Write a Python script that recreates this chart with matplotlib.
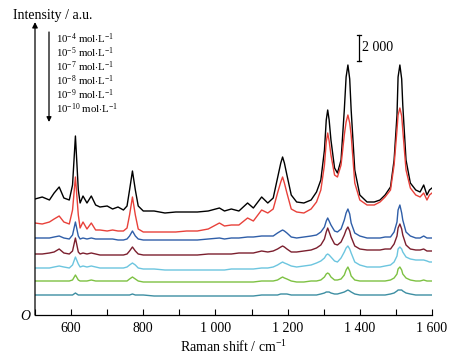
import matplotlib
matplotlib.use('Agg')
import matplotlib.pyplot as plt

plt.rcParams['font.family'] = ['Liberation Serif', 'DejaVu Serif']
plt.rcParams['mathtext.fontset'] = 'custom'
plt.rcParams['mathtext.rm'] = 'Liberation Serif'
plt.rcParams['mathtext.it'] = 'Liberation Serif:italic'

# Raman shift grid (cm-1), shared by all spectra
shift = [500, 520, 540, 553, 567, 580, 595, 604, 612, 620,
         625, 633, 644, 656, 668, 680, 700, 715, 730, 745,
         755, 762, 770, 778, 786, 800, 830, 860, 890, 920,
         950, 980, 1011, 1025, 1044, 1065, 1089, 1105, 1128, 1145,
         1160, 1172, 1181, 1186, 1191, 1198, 1210, 1225, 1245, 1265,
         1280, 1292, 1302, 1307, 1311, 1315, 1320, 1330, 1338, 1348,
         1357, 1362, 1367, 1372, 1376, 1386, 1400, 1420, 1440, 1456,
         1470, 1485, 1495, 1503, 1506, 1511, 1516, 1519, 1528, 1540,
         1555, 1567, 1577, 1586, 1593, 1600]

# stacked intensities, top to bottom (a.u.; the "2 000" bar is 26 units tall)
spec_1 = [116, 118, 115, 122, 128, 117, 115, 130, 179, 125,
          112, 119, 112, 119, 110, 108, 109, 106, 108, 105,
          109, 125, 144, 125, 109, 104, 104, 102, 103, 103,
          103, 104, 107, 104, 106, 104, 112, 107, 118, 112,
          117, 137, 152, 158, 152, 140, 120, 113, 112, 115,
          123, 135, 165, 195, 205, 195, 175, 147, 142, 155,
          205, 238, 250, 236, 205, 145, 120, 113, 113, 115,
          120, 128, 155, 200, 238, 250, 236, 210, 155, 132,
          125, 123, 130, 120, 125, 127]
spec_2 = [92, 91, 93, 96, 99, 93, 91, 105, 138, 100,
          87, 93, 86, 92, 85, 85, 84, 85, 84, 84,
          87, 100, 118, 100, 86, 83, 83, 83, 83, 84,
          84, 86, 92, 89, 90, 90, 97, 94, 105, 102,
          106, 122, 133, 138, 132, 122, 106, 103, 102, 106,
          113, 125, 150, 173, 182, 174, 160, 140, 138, 150,
          180, 193, 200, 192, 180, 132, 115, 110, 110, 113,
          118, 125, 150, 185, 200, 207, 199, 185, 145, 127,
          120, 118, 122, 115, 120, 122]
spec_3 = [77, 77, 77, 78, 79, 77, 76, 80, 93, 79,
          76, 77, 76, 77, 76, 76, 76, 76, 75, 75,
          76, 79, 84, 79, 76, 75, 75, 75, 75, 75,
          75, 76, 77, 76, 77, 77, 78, 78, 79, 79,
          79, 82, 84, 85, 84, 82, 78, 77, 78, 79,
          80, 83, 88, 94, 97, 94, 90, 84, 83, 86,
          95, 102, 106, 101, 92, 82, 79, 77, 77, 77,
          78, 78, 83, 93, 105, 110, 102, 95, 83, 79,
          77, 77, 79, 77, 77, 77]
spec_4 = [61, 61, 62, 63, 66, 62, 61, 64, 77, 63,
          61, 62, 61, 62, 61, 60, 60, 60, 60, 60,
          61, 64, 68, 64, 61, 60, 60, 60, 60, 60,
          60, 61, 61, 61, 61, 62, 62, 62, 64, 63,
          64, 66, 68, 69, 68, 66, 63, 63, 64, 65,
          67, 70, 76, 83, 87, 83, 78, 71, 70, 73,
          80, 85, 88, 84, 78, 69, 66, 65, 65, 65,
          66, 66, 71, 79, 87, 91, 86, 80, 70, 66,
          65, 65, 66, 64, 64, 64]
spec_5 = [47, 47, 47, 48, 49, 48, 47, 50, 58, 51,
          48, 49, 48, 49, 48, 47, 47, 47, 47, 47,
          48, 50, 52, 50, 47, 46, 46, 45, 45, 45,
          45, 45, 45, 45, 46, 46, 46, 46, 47, 47,
          48, 50, 52, 53, 52, 51, 49, 48, 49, 50,
          52, 54, 57, 60, 61, 60, 58, 54, 53, 57,
          63, 67, 69, 66, 62, 53, 50, 48, 48, 48,
          49, 50, 53, 59, 66, 68, 66, 63, 58, 56,
          55, 55, 55, 54, 53, 53]
spec_6 = [34, 34, 34, 34, 34, 34, 34, 35, 40, 35,
          34, 34, 34, 35, 34, 34, 34, 34, 34, 34,
          34, 36, 38, 36, 34, 33, 33, 33, 33, 33,
          33, 33, 33, 33, 33, 33, 33, 33, 34, 34,
          34, 35, 37, 38, 37, 36, 34, 33, 33, 34,
          34, 35, 38, 41, 42, 41, 38, 35, 35, 36,
          40, 45, 48, 44, 39, 35, 34, 34, 34, 34,
          34, 35, 37, 41, 46, 48, 45, 41, 37, 35,
          34, 34, 35, 34, 34, 34]
spec_7 = [20, 20, 20, 20, 20, 20, 20, 20, 22, 20,
          20, 20, 20, 20, 20, 20, 20, 20, 20, 20,
          20, 20, 21, 20, 20, 20, 19, 19, 19, 19,
          19, 19, 19, 19, 19, 19, 19, 19, 20, 20,
          20, 20, 21, 21, 21, 21, 20, 20, 20, 20,
          20, 21, 22, 23, 23, 23, 22, 21, 21, 22,
          23, 24, 25, 24, 23, 21, 20, 20, 20, 20,
          20, 21, 22, 24, 25, 25, 25, 24, 22, 21,
          20, 20, 20, 20, 20, 20]

spectra = [spec_1, spec_2, spec_3, spec_4, spec_5, spec_6, spec_7]
colors = ['#000000', '#e8413a', '#2f5ea8', '#7b1f2e', '#6cc5df', '#7dc142', '#3d8ea2']
labels = [r'10$^{-4}$ mol$\cdot$L$^{-1}$', r'10$^{-5}$ mol$\cdot$L$^{-1}$',
          r'10$^{-7}$ mol$\cdot$L$^{-1}$', r'10$^{-8}$ mol$\cdot$L$^{-1}$',
          r'10$^{-9}$ mol$\cdot$L$^{-1}$', r'10$^{-10}$ mol$\cdot$L$^{-1}$']
xticks = [500, 600, 700, 800, 900, 1000, 1100, 1200, 1300, 1400, 1500, 1600]
xticklabels = ['', '600', '', '800', '', '1 000', '', '1 200', '', '1 400', '', '1 600']

W, H = 461, 356
fig = plt.figure(figsize=(W / 100, H / 100), dpi=100)
ax = fig.add_axes([35 / W, 41 / H, 397 / W, 290 / H])

for y, c in zip(spectra, colors):
    ax.plot(shift, y, color=c, lw=1.0)

ax.set_xlim(500, 1600)
ax.set_ylim(0, 290)
ax.set_yticks([])
ax.set_xticks(xticks)
ax.set_xticklabels(xticklabels)
ax.tick_params(axis='x', direction='in', length=4, width=0.8, labelsize=10, pad=5)
for s in ['top', 'right', 'left']:
    ax.spines[s].set_visible(False)
ax.spines['bottom'].set_linewidth(0.9)

# y axis drawn as an arrow
ax.annotate('', xy=(0, 1.01), xytext=(0, 0), xycoords='axes fraction',
            arrowprops=dict(arrowstyle='-|>', color='k', lw=0.9, mutation_scale=8,
                            shrinkA=0, shrinkB=0))

# scale bar
bx, b0, b1 = 1397, 254.5, 280.5
ax.plot([bx, bx], [b0, b1], color='k', lw=0.9)
ax.plot([bx - 6, bx + 6], [b0, b0], color='k', lw=0.9)
ax.plot([bx - 6, bx + 6], [b1, b1], color='k', lw=0.9)
ax.text(bx + 10, (b0 + b1) / 2, '2 000', fontsize=10, va='center', ha='left')

# concentration list with arrow
ax.annotate('', xy=(49 / W, 1 - 122 / H), xytext=(49 / W, 1 - 32 / H),
            xycoords='figure fraction',
            arrowprops=dict(arrowstyle='-|>', color='k', lw=0.9, mutation_scale=7,
                            shrinkA=0, shrinkB=0))
for i, lab in enumerate(labels):
    fig.text(56 / W, 1 - (39 + 14 * i) / H, lab, fontsize=7.8, va='center', ha='left')

fig.text(13 / W, 1 - 15 / H, 'Intensity / a.u.', fontsize=10, va='center', ha='left')
fig.text(25 / W, 1 - 316 / H, 'O', fontsize=10, style='italic', va='center', ha='center')
ax.set_xlabel(r'Raman shift / cm$^{-1}$', fontsize=10, labelpad=3)

fig.savefig('out.png', dpi=100)
